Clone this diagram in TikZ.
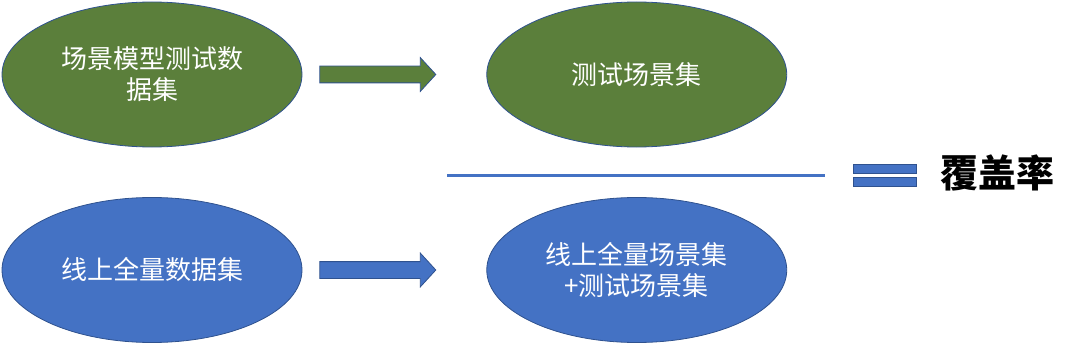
\documentclass[tikz,border=0pt]{standalone}
\usepackage{fontspec}
\setmainfont{Noto Sans CJK SC}
\usepackage{tikz}
\usetikzlibrary{shapes.geometric,shapes.arrows,positioning}
\definecolor{mgreen}{HTML}{5B7F3B}
\definecolor{mblue}{HTML}{4472C4}
\definecolor{edgeblue}{HTML}{2F528F}
\tikzset{
  ell/.style={ellipse, draw=edgeblue, line width=0.8pt, fill=#1, text=white,
              minimum width=300pt, minimum height=145pt, inner sep=0pt,
              align=center, font=\fontsize{26}{31}\selectfont},
  blockarrow/.style={single arrow, draw=edgeblue, line width=0.8pt, fill=#1,
              minimum height=116pt, minimum width=0pt, inner xsep=0pt, inner ysep=8pt,
              single arrow head extend=8.5pt, single arrow tip angle=95},
  eqbar/.style={draw=edgeblue, line width=0.6pt, fill=mblue, minimum width=63pt,
              minimum height=9pt, inner sep=0pt}
}

\begin{document}
\begin{tikzpicture}[x=1pt, y=-1pt]
  \useasboundingbox (0,0) rectangle (1080,345);
  % top row
  \node[ell=mgreen] (scenedata) at (152,74.5) {场景模型测试数\\据集};
  \node[blockarrow=mgreen, right=17pt of scenedata] (toparrow) {};
  \node[ell=mgreen, right=50pt of toparrow] (testscene) {测试场景集};
  % bottom row
  \node[ell=mblue] (onlinedata) at (152,270) {线上全量数据集};
  \node[blockarrow=mblue, right=17pt of onlinedata] (botarrow) {};
  \node[ell=mblue, right=50pt of botarrow] (fullscene) {线上全量场景集\\+测试场景集};
  % fraction line and result
  \coordinate (lineleft) at (447,175);
  \coordinate (lineright) at (825,175);
  \draw[mblue, line width=3pt] (lineleft) -- (lineright);
  \node[eqbar] (eqtop) at (884.5,168.5) {};
  \node[eqbar] (eqbot) at (884.5,181.5) {};
  \node[font=\fontsize{38}{40}\selectfont\bfseries, inner sep=0pt, right=24pt of eqtop.south east, anchor=west] (rate) {覆盖率};
\end{tikzpicture}
\end{document}
